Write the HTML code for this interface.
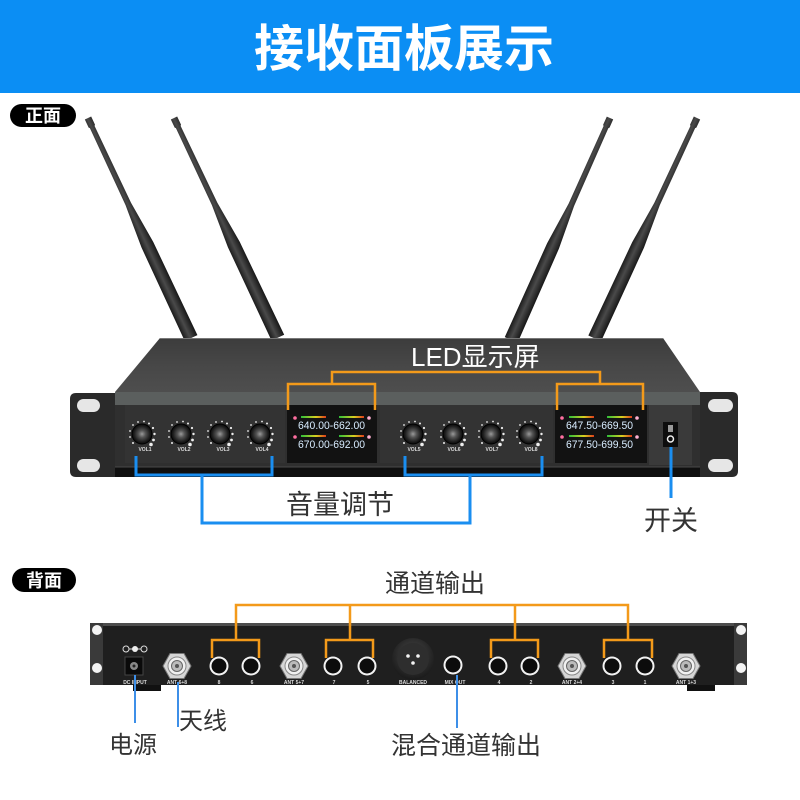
<!DOCTYPE html>
<html><head><meta charset="utf-8"><style>
html,body{margin:0;padding:0;background:#fff;}
svg{display:block;}
.cj{font-family:"Liberation Sans","Noto Sans CJK SC",sans-serif;}
</style></head><body>
<svg width="800" height="800" viewBox="0 0 800 800" xmlns="http://www.w3.org/2000/svg">
<defs>
  <linearGradient id="ant" x1="0" x2="1" y1="0" y2="0">
    <stop offset="0" stop-color="#1a1a1a"/><stop offset="0.45" stop-color="#4a4a4a"/><stop offset="1" stop-color="#161616"/>
  </linearGradient>
  <linearGradient id="top" x1="0" y1="0" x2="0" y2="1">
    <stop offset="0" stop-color="#3c3c3c"/><stop offset="0.5" stop-color="#474747"/><stop offset="1" stop-color="#4e4e4e"/>
  </linearGradient>
  <radialGradient id="kn" cx="0.5" cy="0.5" r="0.5">
    <stop offset="0" stop-color="#9a9a9a"/><stop offset="0.35" stop-color="#555"/><stop offset="0.8" stop-color="#1c1c1c"/><stop offset="1" stop-color="#0a0a0a"/>
  </radialGradient>
  <linearGradient id="bar" x1="0" x2="1">
    <stop offset="0" stop-color="#2fbf3a"/><stop offset="0.6" stop-color="#d8d020"/><stop offset="1" stop-color="#e03a1a"/>
  </linearGradient>
  <radialGradient id="xlr" cx="0.5" cy="0.4" r="0.6">
    <stop offset="0" stop-color="#4a4a4a"/><stop offset="1" stop-color="#1a1a1a"/>
  </radialGradient>
  <g id="knob">
    <circle r="10" fill="url(#kn)"/>
    <circle r="10" fill="none" stroke="#000" stroke-width="1"/>
    <g fill="#eee">
      <circle cx="-9" cy="9" r="1"/><circle cx="-12" cy="3" r="0.9"/><circle cx="-12" cy="-3" r="0.9"/>
      <circle cx="-9" cy="-9" r="0.9"/><circle cx="-4" cy="-12" r="0.9"/><circle cx="2" cy="-12.5" r="0.9"/>
      <circle cx="7" cy="-10.5" r="1"/><circle cx="11" cy="-6" r="1.1"/><circle cx="12.5" cy="0" r="1.2"/>
      <circle cx="11.5" cy="6" r="1.4"/><circle cx="9" cy="10.5" r="1.8"/>
    </g>
  </g>
  <g id="ant1">
    <path d="M-3.5,0 L3.5,0 L3.5,9 L2.6,10 L3,95 L6.5,140 L7,243 L-7,243 L-6.5,140 L-3,95 L-2.6,10 L-3.5,9 Z" fill="url(#ant)"/>
  </g>
  <g id="jack">
    <circle r="9.5" fill="#f2f2f2"/><circle r="7.5" fill="#0c0c0c"/>
  </g>
  <g id="antc">
    <polygon points="14,0 7,-12.5 -7,-12.5 -14,0 -7,12.5 7,12.5" fill="#d6d6d6" stroke="#777" stroke-width="1"/>
    <circle r="9" fill="#f0f0f0" stroke="#888" stroke-width="1"/>
    <circle r="5.5" fill="#bbb" stroke="#666" stroke-width="1"/>
    <circle r="2" fill="#555"/>
  </g>
</defs>

<!-- header -->
<rect x="0" y="0" width="800" height="93" fill="#0b8ef4"/>
<text x="404" y="66" text-anchor="middle" class="cj" font-size="50" font-weight="bold" fill="#fff">接收面板展示</text>

<!-- 正面 pill -->
<rect x="10" y="104" width="66" height="23" rx="11.5" fill="#000"/>
<text x="43" y="122" text-anchor="middle" class="cj" font-size="18" font-weight="bold" fill="#fff">正面</text>

<!-- antennas -->
<use href="#ant1" transform="translate(88,118) rotate(-25.1)"/>
<use href="#ant1" transform="translate(174,118) rotate(-25.3)"/>
<use href="#ant1" transform="translate(610,118) rotate(24)"/>
<use href="#ant1" transform="translate(697,118) rotate(24.9)"/>

<!-- front device -->
<polygon points="160,338 663,338 700,392 115,392" fill="url(#top)"/>
<line x1="160" y1="338.5" x2="663" y2="338.5" stroke="#777" stroke-width="1"/>
<!-- ears -->
<path d="M76,393 H115 V477 H76 Q70,477 70,471 V399 Q70,393 76,393 Z" fill="#2a2a2a"/>
<path d="M700,392 H732 Q738,392 738,398 V471 Q738,477 732,477 H700 Z" fill="#2a2a2a"/>
<rect x="77" y="399" width="23" height="13" rx="6.5" fill="#e6e6e6"/>
<rect x="77" y="459" width="23" height="13" rx="6.5" fill="#e6e6e6"/>
<rect x="708" y="399" width="25" height="13" rx="6.5" fill="#e6e6e6"/>
<rect x="708" y="459" width="25" height="13" rx="6.5" fill="#e6e6e6"/>
<!-- lip band -->
<rect x="115" y="392" width="585" height="13" fill="#5b5f5e"/>
<!-- face -->
<rect x="115" y="405" width="585" height="62" fill="#2f2f2f"/>
<rect x="125" y="405" width="160" height="58" fill="#333"/>
<rect x="380" y="405" width="173" height="58" fill="#333"/>
<rect x="649" y="405" width="43" height="60" fill="#3a3a3a"/>
<rect x="115" y="467" width="585" height="10" fill="#0f0f0f"/>
<line x1="115" y1="467" x2="700" y2="467" stroke="#4a4a4a" stroke-width="1"/>

<!-- LED displays -->
<rect x="287" y="405" width="90" height="58" fill="#121212"/>
<rect x="555" y="405" width="92" height="58" fill="#121212"/>
<g>
  <rect x="301" y="416" width="25" height="2" fill="url(#bar)"/>
  <rect x="339" y="416" width="25" height="2" fill="url(#bar)"/>
  <rect x="301" y="435" width="25" height="2" fill="url(#bar)"/>
  <rect x="339" y="435" width="25" height="2" fill="url(#bar)"/>
  <circle cx="295" cy="418" r="1.8" fill="#ff6fa0"/><circle cx="369" cy="418" r="1.8" fill="#ffb0d0"/>
  <circle cx="295" cy="437" r="1.8" fill="#ff6fa0"/><circle cx="369" cy="437" r="1.8" fill="#ffb0d0"/>
  <text x="298" y="429" font-family="Liberation Sans Narrow, Liberation Sans, sans-serif" font-size="11" fill="#d8ecff" textLength="67" lengthAdjust="spacingAndGlyphs">640.00-662.00</text>
  <text x="298" y="448" font-family="Liberation Sans Narrow, Liberation Sans, sans-serif" font-size="11" fill="#d8ecff" textLength="67" lengthAdjust="spacingAndGlyphs">670.00-692.00</text>

  <rect x="569" y="416" width="25" height="2" fill="url(#bar)"/>
  <rect x="607" y="416" width="25" height="2" fill="url(#bar)"/>
  <rect x="569" y="435" width="25" height="2" fill="url(#bar)"/>
  <rect x="607" y="435" width="25" height="2" fill="url(#bar)"/>
  <circle cx="562" cy="418" r="1.8" fill="#ff6fa0"/><circle cx="637" cy="418" r="1.8" fill="#ffb0d0"/>
  <circle cx="562" cy="437" r="1.8" fill="#ff6fa0"/><circle cx="637" cy="437" r="1.8" fill="#ffb0d0"/>
  <text x="566" y="429" font-family="Liberation Sans Narrow, Liberation Sans, sans-serif" font-size="11" fill="#d8ecff" textLength="67" lengthAdjust="spacingAndGlyphs">647.50-669.50</text>
  <text x="566" y="448" font-family="Liberation Sans Narrow, Liberation Sans, sans-serif" font-size="11" fill="#d8ecff" textLength="67" lengthAdjust="spacingAndGlyphs">677.50-699.50</text>
</g>

<!-- knobs -->
<use href="#knob" x="142" y="434"/>
<use href="#knob" x="181" y="434"/>
<use href="#knob" x="220" y="434"/>
<use href="#knob" x="260" y="434"/>
<use href="#knob" x="413" y="434"/>
<use href="#knob" x="453" y="434"/>
<use href="#knob" x="491" y="434"/>
<use href="#knob" x="529" y="434"/>
<g font-family="Liberation Sans, sans-serif" font-size="5" font-weight="bold" fill="#ddd" text-anchor="middle">
  <text x="145" y="451">VOL1</text><text x="184" y="451">VOL2</text><text x="223" y="451">VOL3</text><text x="262" y="451">VOL4</text>
  <text x="414" y="451">VOL5</text><text x="454" y="451">VOL6</text><text x="492" y="451">VOL7</text><text x="531" y="451">VOL8</text>
</g>

<!-- switch -->
<rect x="663" y="422" width="15" height="25" fill="#0d0d0d"/>
<rect x="668" y="425" width="5" height="7" fill="#9a9a9a"/>
<circle cx="670.5" cy="439" r="3" fill="none" stroke="#eee" stroke-width="1.5"/>

<!-- LED label & orange brackets -->
<text x="411" y="366" class="cj" font-size="26" fill="#fff">LED显示屏</text>
<g fill="none" stroke="#f39a1a" stroke-width="2.5">
  <path d="M332,384 V372 H600 V384"/>
  <path d="M288,410 V384 H375 V410"/>
  <path d="M557,410 V384 H643 V410"/>
</g>

<!-- blue brackets front -->
<g fill="none" stroke="#1a8ef0" stroke-width="3">
  <path d="M136,456 V475 H272 V456"/>
  <path d="M202,475 V523 H470 V475"/>
  <path d="M405,456 V475 H542 V456"/>
  <path d="M671,447 V498"/>
</g>
<text x="286" y="514" class="cj" font-size="27" fill="#333">音量调节</text>
<text x="644" y="530" class="cj" font-size="27" fill="#333">开关</text>

<!-- 背面 pill -->
<rect x="12" y="568" width="64" height="24" rx="12" fill="#000"/>
<text x="44" y="587" text-anchor="middle" class="cj" font-size="18" font-weight="bold" fill="#fff">背面</text>

<text x="385" y="592" class="cj" font-size="25" fill="#333">通道输出</text>

<!-- back device -->
<rect x="90" y="623" width="15" height="62" fill="#3a3a3a"/>
<circle cx="97" cy="630" r="5" fill="#f4f4f4"/>
<circle cx="97" cy="668" r="5" fill="#f4f4f4"/>
<rect x="733" y="623" width="14" height="62" fill="#3a3a3a"/>
<circle cx="741" cy="630" r="5" fill="#f4f4f4"/>
<circle cx="741" cy="668" r="5" fill="#f4f4f4"/>
<rect x="103" y="623" width="631" height="62" fill="#1f1f1f"/>
<rect x="103" y="623" width="631" height="3" fill="#4d4d4d"/>
<rect x="133" y="685" width="28" height="6" fill="#111"/>
<rect x="687" y="685" width="28" height="6" fill="#111"/>

<!-- DC -->
<g fill="none" stroke="#ddd" stroke-width="1">
  <circle cx="126" cy="649" r="3"/><circle cx="144" cy="649" r="3"/>
  <line x1="129" y1="649" x2="141" y2="649"/>
</g>
<circle cx="135" cy="649" r="3" fill="#eee"/>
<rect x="125" y="657" width="18" height="18" fill="#0a0a0a" stroke="#444" stroke-width="1"/>
<circle cx="134" cy="666" r="4" fill="#888"/>
<circle cx="134" cy="666" r="1.5" fill="#222"/>

<use href="#antc" x="177" y="666"/>
<use href="#antc" x="294" y="666"/>
<use href="#antc" x="572" y="666"/>
<use href="#antc" x="686" y="666"/>
<use href="#jack" x="219" y="666"/>
<use href="#jack" x="251" y="666"/>
<use href="#jack" x="333" y="666"/>
<use href="#jack" x="367" y="666"/>
<use href="#jack" x="453" y="665"/>
<use href="#jack" x="498" y="666"/>
<use href="#jack" x="530" y="666"/>
<use href="#jack" x="612" y="666"/>
<use href="#jack" x="645" y="666"/>
<circle cx="413" cy="659" r="21" fill="url(#xlr)"/>
<circle cx="413" cy="659" r="16" fill="#2e2e2e"/>
<circle cx="408" cy="656" r="1.8" fill="#f4f4f4"/>
<circle cx="418" cy="656" r="1.8" fill="#f4f4f4"/>
<circle cx="413" cy="663" r="1.8" fill="#f4f4f4"/>

<g font-family="Liberation Sans, sans-serif" font-size="5" font-weight="bold" fill="#ddd" text-anchor="middle">
  <text x="135" y="684">DC INPUT</text>
  <text x="177" y="684">ANT 6+8</text>
  <text x="219" y="684">8</text><text x="252" y="684">6</text>
  <text x="294" y="684">ANT 5+7</text>
  <text x="334" y="684">7</text><text x="368" y="684">5</text>
  <text x="413" y="684">BALANCED</text>
  <text x="455" y="684">MIX OUT</text>
  <text x="499" y="684">4</text><text x="531" y="684">2</text>
  <text x="572" y="684">ANT 2+4</text>
  <text x="613" y="684">3</text><text x="645" y="684">1</text>
  <text x="686" y="684">ANT 1+3</text>
</g>

<!-- back orange -->
<g fill="none" stroke="#f39a1a" stroke-width="2.5">
  <path d="M236,640 V605 H628 V640"/>
  <path d="M350,605 V640"/>
  <path d="M515,605 V640"/>
  <path d="M212,658 V640 H259 V658"/>
  <path d="M326,658 V640 H373 V658"/>
  <path d="M491,658 V640 H538 V658"/>
  <path d="M604,658 V640 H652 V658"/>
</g>

<!-- back blue -->
<g fill="none" stroke="#3d8fe8" stroke-width="2">
  <path d="M135,675 V723"/>
  <path d="M178,682 V727"/>
  <path d="M457,675 V728"/>
</g>
<text x="109" y="753" class="cj" font-size="24" fill="#333">电源</text>
<text x="179" y="729" class="cj" font-size="24" fill="#333">天线</text>
<text x="391" y="754" class="cj" font-size="25" fill="#333">混合通道输出</text>
</svg>
</body></html>
